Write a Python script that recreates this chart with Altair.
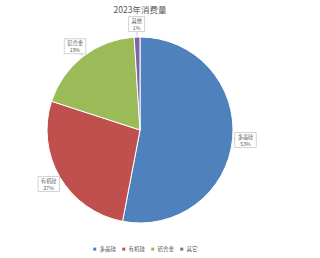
import altair as alt
import pandas as pd

# 2023 consumption split by material
categories = ["多晶硅", "有机硅", "铝合金", "其他"]
shares = [53, 27, 19, 1]
pct_labels = ["53%", "27%", "19%", "1%"]
colors = ["#4F81BD", "#C0504D", "#9BBB59", "#8064A2"]

df = pd.DataFrame({
    "category": categories,
    "share": shares,
    "pct": pct_labels,
    "order": list(range(len(categories))),
})

FONT = "Noto Sans CJK SC"
CX, CY, R = 140, 130, 93
LABEL_R = 106

base = (
    alt.Chart(df)
    .transform_window(cum="sum(share)", sort=[{"field": "order"}], frame=[None, 0])
    .transform_joinaggregate(total="sum(share)")
    .transform_calculate(
        mid="(datum.cum - datum.share / 2) / datum.total * 2 * PI",
        lx=f"{CX} + {LABEL_R} * sin(datum.mid)",
        ly=f"{CY} - {LABEL_R} * cos(datum.mid)",
        bw="length(datum.category) * 5.5 + 5",
        bx1="datum.lx - datum.bw / 2",
        bx2="datum.lx + datum.bw / 2",
        by1="datum.ly - 7.5",
        by2="datum.ly + 7.5",
        r1x=f"{CX} + {R + 1} * sin(datum.mid)",
        r1y=f"{CY} - {R + 1} * cos(datum.mid)",
        r2x=f"{CX} + {LABEL_R - 8} * sin(datum.mid)",
        r2y=f"{CY} - {LABEL_R - 8} * cos(datum.mid)",
        ty1="datum.ly - 3.2",
        ty2="datum.ly + 3.6",
    )
)

pie = alt.Chart(df).mark_arc(outerRadius=R, stroke="white", strokeWidth=1).encode(
    theta=alt.Theta("share:Q", stack=True),
    order=alt.Order("order:Q"),
    color=alt.Color(
        "category:N",
        sort=categories,
        scale=alt.Scale(domain=categories, range=colors),
        legend=alt.Legend(
            title=None,
            orient="none",
            legendX=92,
            legendY=246,
            direction="horizontal",
            symbolType="square",
            symbolSize=9,
            symbolStrokeWidth=0,
            labelFont=FONT,
            labelFontSize=5.5,
            labelColor="#595959",
            labelOffset=2,
            columnPadding=4,
            labelExpr="datum.label == '其他' ? '其它' : datum.label",
        ),
    ),
    x=alt.value(CX),
    y=alt.value(CY),
)

leaders = base.mark_rule(color="#a6a6a6", strokeWidth=0.6).encode(
    x=alt.X("r1x:Q", scale=None, axis=None),
    y=alt.Y("r1y:Q", scale=None, axis=None),
    x2="r2x:Q",
    y2="r2y:Q",
)

boxes = base.mark_rect(fill="white", stroke="#bfbfbf", strokeWidth=0.7).encode(
    x=alt.X("bx1:Q", scale=None, axis=None),
    x2="bx2:Q",
    y=alt.Y("by1:Q", scale=None, axis=None),
    y2="by2:Q",
)

name_text = base.mark_text(font=FONT, fontSize=5.2, color="#595959", baseline="middle").encode(
    x=alt.X("lx:Q", scale=None, axis=None),
    y=alt.Y("ty1:Q", scale=None, axis=None),
    text="category:N",
)

pct_text = base.mark_text(font=FONT, fontSize=5.2, color="#595959", baseline="middle").encode(
    x=alt.X("lx:Q", scale=None, axis=None),
    y=alt.Y("ty2:Q", scale=None, axis=None),
    text="pct:N",
)

title = alt.Chart(pd.DataFrame({"t": ["2023年消费量"]})).mark_text(
    font=FONT, fontSize=8.5, color="#595959", baseline="middle"
).encode(x=alt.value(140), y=alt.value(10), text="t:N")

chart = (
    alt.layer(pie, leaders, boxes, name_text, pct_text, title)
    .properties(width=320, height=258, padding=0, autosize="none", background="white")
    .configure_view(stroke=None)
)

chart.save("out.html", embed_options={"renderer": "svg", "actions": False})
